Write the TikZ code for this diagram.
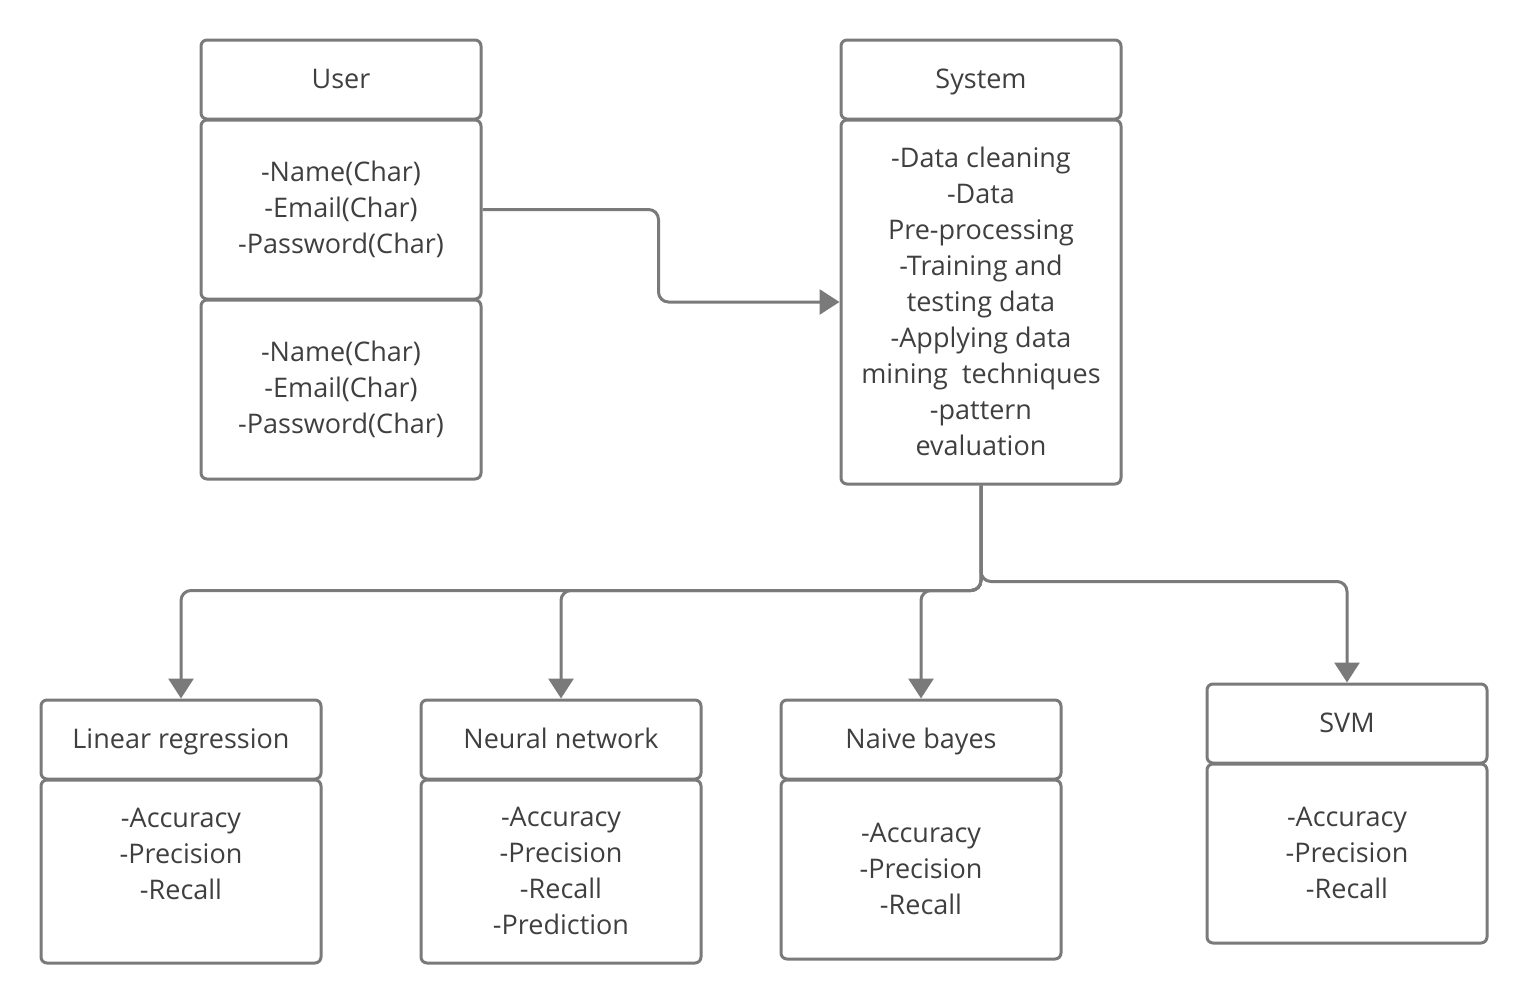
\documentclass[tikz,border=0pt]{standalone}
\usepackage{fontspec}
\setmainfont{Open Sans}
\usetikzlibrary{arrows.meta}
\definecolor{boxgray}{HTML}{7A7A7A}
\definecolor{txtgray}{HTML}{3F3F3F}
\newcommand\mytopstrut{\rule{0pt}{35pt}}
\newcommand\mybotstrut{\rule[-1pt]{0pt}{1pt}}
\newcommand\myhdrtop{\rule{0pt}{27pt}}
\newcommand\myhdrbot{\rule[-9pt]{0pt}{9pt}}
\begin{document}
\begin{tikzpicture}[x=1pt,y=-1pt,
  basebox/.style={draw=boxgray,line width=3pt,rounded corners=6pt,minimum width=280pt,
    inner sep=0pt,align=center,text=txtgray,font=\fontsize{27pt}{36pt}\selectfont},
  umlbox/.style={basebox,execute at begin node=\mytopstrut,execute at end node=\mybotstrut},
  hdrbox/.style={basebox,minimum height=79pt,
    execute at begin node=\myhdrtop,execute at end node=\myhdrbot},
  conn/.style={draw=boxgray,line width=3pt,rounded corners=10pt,
    -{Triangle[length=20pt,width=25pt]}},
  lbl/.style={align=center,text=txtgray,font=\fontsize{27pt}{36pt}\selectfont,inner sep=0pt,
    execute at begin node=\mytopstrut,execute at end node=\mybotstrut}]
\useasboundingbox (0,0) rectangle (1527,1004);
% User
\node[hdrbox] (userh) at (341,79.5) {User};
\node[umlbox,minimum height=179pt] (userb1) at (341,209.5) {-Name(Char)\\-Email(Char)\\-Password(Char)};
\node[umlbox,minimum height=179pt] (userb2) at (341,389.5) {-Name(Char)\\-Email(Char)\\-Password(Char)};
% System
\node[umlbox,minimum height=364pt] (sysb) at (981,302) {-Data cleaning\\-Data\\Pre-processing\\-Training and\\testing data\\-Applying data\\mining~ techniques\\-pattern\\evaluation};
\node[hdrbox] (sysh) at (981,79.5) {System};
% Linear regression
\node[hdrbox] (lrh) at (181,739.5) {Linear regression};
\node[umlbox,minimum height=183pt] (lrb) at (181,871.5) {};
\node[lbl] (lrt) at (181,854) {-Accuracy\\-Precision\\-Recall};
% Neural network
\node[hdrbox] (nnh) at (561,739.5) {Neural network};
\node[umlbox,minimum height=183pt] (nnb) at (561,871.5) {-Accuracy\\-Precision\\-Recall\\-Prediction};
% Naive bayes
\node[hdrbox] (nbh) at (921,739.5) {Naive bayes};
\node[umlbox,minimum height=179pt] (nbb) at (921,869.5) {-Accuracy\\-Precision\\-Recall};
% SVM
\node[hdrbox] (svmh) at (1347,723.5) {SVM};
\node[umlbox,minimum height=179pt] (svmb) at (1347,853.5) {-Accuracy\\-Precision\\-Recall};
% connectors
\draw[conn] (userb1.east) -| ([xshift=-181pt]sysb.west) -- (sysb.west);
\draw[conn] (sysb.south) |- ([yshift=108pt]lrh.north) -- (lrh.north);
\draw[conn] (sysb.south) |- ([yshift=108pt]nnh.north) -- (nnh.north);
\draw[conn] (sysb.south) |- ([yshift=108pt]nbh.north) -- (nbh.north);
\draw[conn] (sysb.south) |- ([yshift=101pt]svmh.north) -- (svmh.north);
\end{tikzpicture}
\end{document}
